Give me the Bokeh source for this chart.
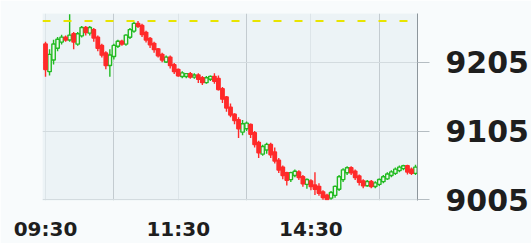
from bokeh.plotting import figure
from bokeh.models import ColumnDataSource, Range1d, FixedTicker, Span
from bokeh.embed import file_html
from bokeh.resources import INLINE

# ---- data ----
open_ = [9231, 9192, 9209, 9226, 9235, 9241, 9238, 9246, 9232, 9244,
         9255, 9248, 9252, 9241, 9229, 9218, 9201, 9214, 9229, 9235,
         9232, 9242, 9251, 9261, 9258, 9248, 9239, 9232, 9224, 9216,
         9206, 9212, 9201, 9194, 9185, 9185, 9188, 9184, 9186, 9182,
         9176, 9181, 9184, 9181, 9166, 9154, 9139, 9129, 9121, 9104,
         9109, 9114, 9102, 9088, 9072, 9078, 9085, 9074, 9062, 9052,
         9044, 9035, 9041, 9045, 9038, 9028, 9032, 9026, 9024, 9016,
         9011, 9008, 9012, 9021, 9035, 9045, 9051, 9046, 9039, 9032,
         9026, 9031, 9025, 9028, 9032, 9036, 9041, 9044, 9048, 9051,
         9054, 9049, 9044]
high = [9235, 9224, 9238, 9242, 9245, 9244, 9275, 9249, 9249, 9258,
        9258, 9258, 9255, 9244, 9232, 9221, 9224, 9232, 9238, 9238,
        9246, 9255, 9264, 9265, 9261, 9251, 9242, 9235, 9226, 9219,
        9215, 9215, 9204, 9196, 9192, 9189, 9191, 9189, 9189, 9185,
        9185, 9186, 9189, 9186, 9169, 9156, 9145, 9131, 9125, 9121,
        9119, 9116, 9105, 9091, 9085, 9088, 9088, 9081, 9066, 9055,
        9046, 9046, 9049, 9048, 9041, 9036, 9035, 9045, 9029, 9019,
        9014, 9018, 9026, 9041, 9051, 9054, 9054, 9049, 9042, 9035,
        9034, 9034, 9032, 9036, 9041, 9045, 9048, 9052, 9055, 9056,
        9056, 9052, 9056]
low = [9184, 9186, 9202, 9221, 9231, 9235, 9235, 9224, 9229, 9241,
       9244, 9244, 9235, 9221, 9212, 9195, 9184, 9209, 9226, 9229,
       9229, 9239, 9248, 9255, 9242, 9234, 9226, 9219, 9212, 9205,
       9204, 9196, 9188, 9184, 9182, 9182, 9181, 9181, 9175, 9172,
       9174, 9178, 9174, 9164, 9146, 9133, 9125, 9115, 9095, 9099,
       9105, 9095, 9081, 9066, 9069, 9072, 9066, 9058, 9044, 9035,
       9026, 9031, 9038, 9034, 9024, 9021, 9019, 9012, 9011, 9005,
       9005, 9005, 9008, 9018, 9031, 9041, 9041, 9034, 9026, 9022,
       9024, 9022, 9022, 9025, 9029, 9034, 9038, 9041, 9045, 9048,
       9042, 9041, 9041]
close = [9195, 9216, 9231, 9238, 9241, 9238, 9244, 9235, 9246, 9255,
         9249, 9255, 9241, 9226, 9216, 9201, 9215, 9229, 9235, 9232,
         9244, 9252, 9261, 9258, 9246, 9238, 9231, 9224, 9215, 9209,
         9212, 9201, 9192, 9186, 9189, 9188, 9184, 9186, 9181, 9176,
         9182, 9184, 9178, 9166, 9152, 9139, 9129, 9121, 9109, 9115,
         9116, 9101, 9086, 9074, 9082, 9085, 9071, 9062, 9049, 9041,
         9034, 9044, 9046, 9038, 9029, 9034, 9025, 9021, 9015, 9009,
         9006, 9015, 9024, 9038, 9048, 9051, 9045, 9038, 9031, 9026,
         9031, 9025, 9029, 9034, 9038, 9042, 9045, 9049, 9052, 9054,
         9046, 9044, 9052]
time_labels = ["09:30", "11:30", "14:30"]
time_label_index = [0, 33, 66]
time_grid_index = [17, 50, 83]
price_ticks = [9005, 9105, 9205]
ref_level = 9265

n = len(open_)
UP, DOWN = "#22bb22", "#ff2a2a"

def part(up):
    sel = [i for i in range(n) if (close[i] >= open_[i]) == up]
    return ColumnDataSource(dict(
        x=sel,
        h=[high[i] for i in sel],
        l=[low[i] for i in sel],
        top=[max(open_[i], close[i]) + 0.6 for i in sel],
        bot=[min(open_[i], close[i]) - 0.6 for i in sel],
    ))

up_src, dn_src = part(True), part(False)

p = figure(width=531, height=243, output_backend="svg", toolbar_location=None,
           x_range=Range1d(-0.75, n - 0.5), y_range=Range1d(9004, 9276),
           y_axis_location="right",
           min_border_left=42, min_border_right=112, min_border_top=13,
           min_border_bottom=40)
p.background_fill_color = "#ecf3f6"
p.border_fill_color = "#f8fbfc"
p.outline_line_color = None

# grids
p.xaxis.ticker = FixedTicker(ticks=time_label_index, minor_ticks=time_grid_index)
p.xgrid.grid_line_color = "#dde5e9"
p.xgrid.minor_grid_line_color = "#c3cbd0"
p.yaxis.ticker = FixedTicker(ticks=price_ticks)
p.ygrid.grid_line_color = "#d3dbdf"

# reference dashed line
p.add_layout(Span(location=ref_level, dimension="width", line_color="#e8e400",
                  line_width=2, line_dash="8 13"))

# candles
for src, col, fill in ((up_src, UP, "#eef7ef"), (dn_src, DOWN, DOWN)):
    p.segment(x0="x", y0="h", x1="x", y1="l", source=src, line_color=col, line_width=1.4)
    p.vbar(x="x", width=0.85, top="top", bottom="bot", source=src,
           fill_color=fill, line_color=col, line_width=1.4)

# x axis
xa = p.xaxis[0]
xa.major_label_overrides = {t: s for t, s in zip(time_label_index, time_labels)}
xa.axis_line_color = None
xa.major_tick_line_color = None
xa.minor_tick_line_color = None
xa.major_tick_out = 0
xa.major_tick_in = 0
xa.minor_tick_out = 0
xa.minor_tick_in = 0
xa.major_label_standoff = 16
xa.major_label_text_font = "DejaVu Sans"
xa.major_label_text_font_style = "bold"
xa.major_label_text_font_size = "20px"
xa.major_label_text_color = "#1e1e1e"

# y axis (right)
ya = p.yaxis[0]
ya.axis_line_color = "#8d969c"
ya.major_tick_line_color = "#b5bdc2"
ya.major_tick_out = 12
ya.major_tick_in = 0
ya.minor_tick_line_color = None
ya.minor_tick_out = 0
ya.major_label_standoff = 16
ya.major_label_text_font = "DejaVu Sans"
ya.major_label_text_font_style = "bold"
ya.major_label_text_font_size = "30px"
ya.major_label_text_color = "#1e1e1e"

open("out.html", "w").write(file_html(p, INLINE))
